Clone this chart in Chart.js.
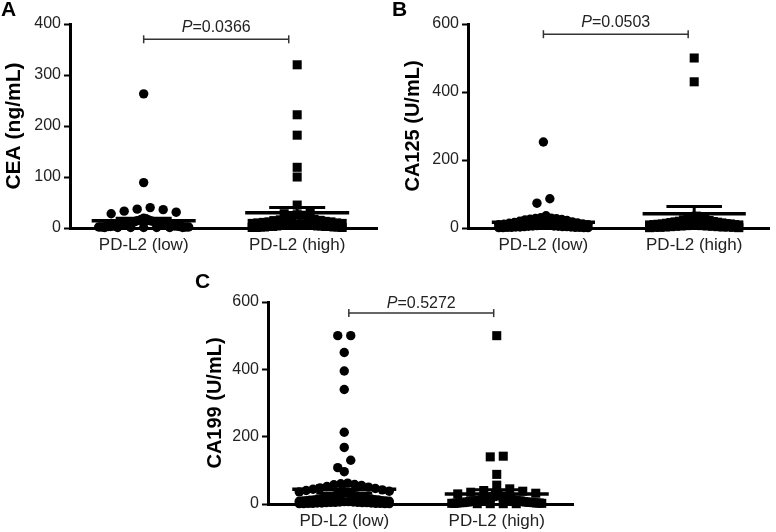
<!DOCTYPE html>
<html lang="en">
<head>
<meta charset="UTF-8">
<title>PD-L2 and tumour markers</title>
<script src="https://cdn.jsdelivr.net/npm/chart.js"></script>
<style>
  body { margin: 0; background: #fff; }
  .wrap { position: relative; width: 776px; height: 532px; overflow: hidden; }
  .panel { position: absolute; }
  .tag { position: absolute; font: bold 21px "Liberation Sans", Arial, sans-serif; line-height: 21px; color: #000; }
</style>
</head>
<body>
<div class="wrap">
  <canvas id="chartA" class="panel" width="388" height="262" style="left:0;top:0"></canvas>
  <canvas id="chartB" class="panel" width="386" height="262" style="left:390px;top:0"></canvas>
  <canvas id="chartC" class="panel" width="400" height="262" style="left:190px;top:270px"></canvas>
  <div class="tag" style="left:1px;top:-2px">A</div>
  <div class="tag" style="left:392px;top:-2px">B</div>
  <div class="tag" style="left:195px;top:270px">C</div>
</div>
<script>
const groups = ['PD-L2 (low)', 'PD-L2 (high)'];
const centers = [1, 3];

// CEA (ng/mL)
const ceaLow = [263, 89, 40, 37, 36, 33, 31, 28, 19, 18, 17, 16, 15, 14, 14, 13, 12, 11, 10, 10, 9, 9, 8, 8, 7, 7, 6, 6, 6,
  5, 5, 5, 4, 4, 4, 4, 3, 3, 3, 3, 3, 2, 2, 2, 2, 2, 2, 1, 1, 1, 1, 1, 1, 1];
const ceaHigh = [320, 222, 182, 119, 100, 45, 30, 28, 26, 25, 22, 20, 18, 17, 16, 15, 14, 13, 12, 12, 11, 10, 10, 9, 9, 8, 8,
  7, 7, 6, 6, 5, 5, 5, 4, 4, 4, 3, 3, 3, 3, 2, 2, 2, 2, 1, 1, 1];
const ceaMean = [14, 30];
const ceaSem = [5, 10];

// CA125 (U/mL)
const ca125Low = [253, 86, 73, 36, 30, 29, 28, 27, 26, 25, 24, 22, 20, 18, 16, 15, 14, 12, 11, 10, 10, 9, 8, 8, 7, 6, 6,
  5, 5, 4, 4, 4, 3, 3, 3, 2, 2, 2, 2, 1, 1, 1, 1];
const ca125High = [500, 430, 35, 30, 28, 26, 25, 24, 22, 20, 19, 18, 17, 16, 15, 14, 13, 12, 12, 11, 10, 10, 9, 9, 8, 8,
  7, 7, 6, 6, 5, 5, 4, 4, 3, 3, 3, 2, 2, 2, 1, 1];
const ca125Mean = [17, 42];
const ca125Sem = [7, 21];

// CA199 (U/mL)
const ca199Low = [500, 500, 450, 395, 340, 213, 168, 130, 108, 96, 62, 60, 58, 57, 55, 52, 50, 48, 46, 44, 42, 40, 38, 36,
  34, 32, 30, 28, 26, 25, 24, 22, 21, 20, 19, 18, 17, 16, 15, 14, 13, 12, 12, 11, 10, 10, 9, 9, 8, 8, 7, 7, 6, 6, 5, 5, 5,
  4, 4, 4, 3, 3, 3, 2, 2, 2, 2, 1, 1, 1, 1];
const ca199High = [500, 142, 140, 88, 56, 45, 40, 38, 35, 32, 30, 28, 26, 24, 22, 20, 19, 18, 17, 16, 15, 14, 13, 12, 11,
  10, 10, 9, 9, 8, 8, 7, 7, 6, 6, 5, 5, 5, 4, 4, 4, 3, 3, 3, 2, 2, 2, 1, 1, 1, 1];
const ca199Mean = [44, 30];
const ca199Sem = [11, 12];

const FONT = '"Liberation Sans", Arial, sans-serif';

// italic P + value above the comparison bracket
const pLabel = {
  id: 'pLabel',
  afterDatasetsDraw(chart, args, opts) {
    const {ctx, scales: {x, y}} = chart;
    const cx = (x.getPixelForValue(opts.x1) + x.getPixelForValue(opts.x2)) / 2;
    const cy = y.getPixelForValue(opts.y) - opts.lift;
    const rest = '=' + opts.text;
    ctx.save();
    ctx.fillStyle = '#222';
    ctx.textBaseline = 'middle';
    ctx.textAlign = 'left';
    ctx.font = 'italic 16px ' + FONT;
    const w1 = ctx.measureText('P').width;
    ctx.font = '16px ' + FONT;
    const w2 = ctx.measureText(rest).width;
    const left = cx - (w1 + w2) / 2;
    ctx.font = 'italic 16px ' + FONT;
    ctx.fillText('P', left, cy);
    ctx.font = '16px ' + FONT;
    ctx.fillText(rest, left + w1, cy);
    ctx.restore();
  }
};

// rows of nearby values spread sideways, like a dot plot
function swarm(chart, values, center) {
  const xs = chart.scales.x, ys = chart.scales.y;
  const sorted = values.slice().sort((a, b) => b - a);
  const rows = [];
  let row = null, top = 0;
  sorted.forEach(v => {
    const py = ys.getPixelForValue(v);
    if (!row || py - top > 9) { row = []; rows.push(row); top = py; }
    row.push(v);
  });
  const cx = xs.getPixelForValue(center);
  const pts = [];
  rows.forEach(r => {
    r.sort((a, b) => a - b);
    const n = r.length;
    const gap = n > 1 ? Math.min(13, 90 / (n - 1)) : 0;
    let lo = 0, hi = n - 1;
    r.forEach((v, i) => {
      const slot = i % 2 ? hi-- : lo++;
      pts.push({x: xs.getValueForPixel(cx + (slot - (n - 1) / 2) * gap), y: v});
    });
  });
  return pts;
}

function segment(points, width, color) {
  return {
    data: points, showLine: true, borderColor: color || '#000', borderWidth: width,
    pointRadius: 0, clip: false
  };
}

function makePanel(p) {
  const chart = new Chart(document.getElementById(p.id), {
    type: 'scatter',
    data: { datasets: [] },
    options: {
      responsive: false,
      animation: false,
      events: [],
      layout: { padding: { left: 0, top: p.padTop, right: p.padRight, bottom: 0 } },
      plugins: {
        legend: { display: false },
        tooltip: { enabled: false },
        pLabel: { x1: p.bracket[0], x2: p.bracket[1], y: p.bracket[2], lift: p.lift, text: p.pValue }
      },
      scales: {
        x: {
          type: 'linear', min: p.xMin, max: p.xMin + 4,
          afterBuildTicks: s => { s.ticks = centers.map(v => ({ value: v })); },
          ticks: {
            callback: v => groups[centers.indexOf(v)],
            font: { family: FONT, size: 17 }, color: '#222', padding: 7, autoSkip: false, maxRotation: 0
          },
          grid: { display: false, drawTicks: false },
          border: { display: true, color: '#000', width: 3 },
          afterFit: s => { s.height = p.xAxisH; }
        },
        y: {
          min: 0, max: p.yMax,
          ticks: { stepSize: p.step, font: { family: FONT, size: 16 }, color: '#222', padding: 3 },
          grid: { drawOnChartArea: false, drawTicks: true, tickLength: 6, tickWidth: 2, tickColor: '#000' },
          border: { color: '#000', width: 3 },
          title: {
            display: true, text: p.title, color: '#000',
            font: { family: FONT, weight: 'bold', size: p.titleSize },
            padding: { top: p.titlePad, bottom: 0 }
          },
          afterFit: s => { s.width = p.yAxisW; }
        }
      }
    },
    plugins: [pLabel]
  });

  const xs = chart.scales.x;
  const xAt = (c, dpx) => xs.getValueForPixel(xs.getPixelForValue(c) + dpx);
  const ds = [];
  [p.low, p.high].forEach((vals, g) => {
    ds.push({
      data: swarm(chart, vals, centers[g]),
      pointStyle: g ? 'rect' : 'circle',
      pointRadius: g ? 6.4 : 4.7,
      backgroundColor: '#000', borderColor: '#000', borderWidth: 0, clip: false
    });
  });
  p.mean.forEach((m, g) => {
    const c = centers[g], s = p.sem[g];
    ds.push(segment([{ x: xAt(c, -52), y: m }, { x: xAt(c, 52), y: m }], 3.5));
    ds.push(segment([{ x: c, y: m - s }, { x: c, y: m + s }], 3));
    ds.push(segment([{ x: xAt(c, -28), y: m + s }, { x: xAt(c, 28), y: m + s }], 3));
    ds.push(segment([{ x: xAt(c, -28), y: m - s }, { x: xAt(c, 28), y: m - s }], 3));
  });
  ds.push({
    data: [{ x: p.bracket[0], y: p.bracket[2] }, { x: p.bracket[1], y: p.bracket[2] }],
    showLine: true, borderColor: '#333', borderWidth: 1.5,
    pointStyle: 'line', rotation: 90, pointRadius: 4, pointBorderWidth: 1.5, pointBorderColor: '#333', clip: false
  });
  chart.data.datasets = ds;
  chart.update('none');
}

makePanel({
  id: 'chartA', title: 'CEA (ng/mL)', titleSize: 21, titlePad: 2,
  low: ceaLow, high: ceaHigh, mean: ceaMean, sem: ceaSem,
  yMax: 400, step: 100, xMin: 0.04, padTop: 24, padRight: 11, yAxisW: 70, xAxisH: 34,
  bracket: [1, 2.89, 370], lift: 12, pValue: '0.0366'
});
makePanel({
  id: 'chartB', title: 'CA125 (U/mL)', titleSize: 20, titlePad: 11,
  low: ca125Low, high: ca125High, mean: ca125Mean, sem: ca125Sem,
  yMax: 600, step: 200, xMin: 0, padTop: 24, padRight: 4, yAxisW: 78, xAxisH: 34,
  bracket: [1, 2.92, 570], lift: 12, pValue: '0.0503'
});
makePanel({
  id: 'chartC', title: 'CA199 (U/mL)', titleSize: 20, titlePad: 13,
  low: ca199Low, high: ca199High, mean: ca199Mean, sem: ca199Sem,
  yMax: 600, step: 200, xMin: 0, padTop: 32, padRight: 17, yAxisW: 78, xAxisH: 28,
  bracket: [1.06, 2.96, 567], lift: 10, pValue: '0.5272'
});
</script>
</body>
</html>
